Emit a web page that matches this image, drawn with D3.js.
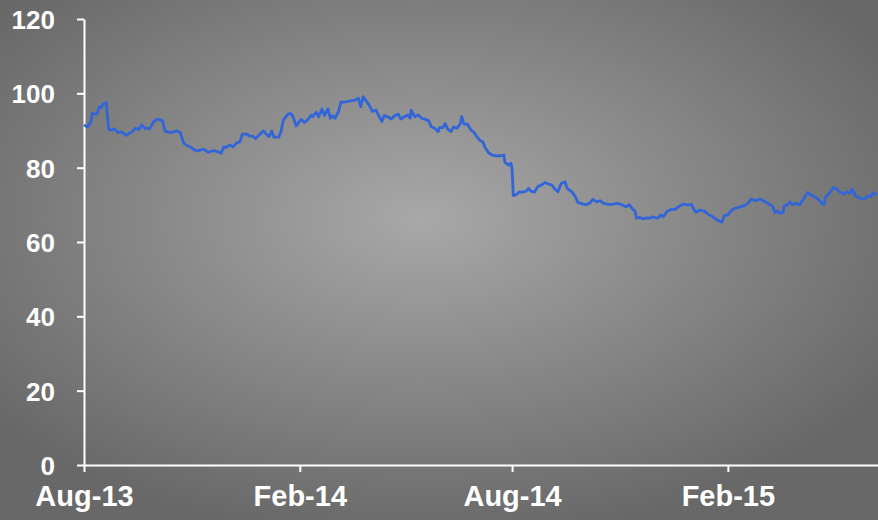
<!DOCTYPE html>
<html>
<head>
<meta charset="utf-8">
<script src="https://cdn.jsdelivr.net/npm/d3@7"></script>
<style>
    body { margin: 0; background: #7a7a7a; }
    svg { display: block; }
    .axis text { font-family: "Liberation Sans", Arial, sans-serif; font-weight: bold; fill: #fff; }
</style>
</head>
<body>
<script>
// Data
let dates = [
    '2013-08-01','2013-08-04','2013-08-07','2013-08-08','2013-08-12','2013-08-14','2013-08-16','2013-08-17','2013-08-20','2013-08-22',
    '2013-08-25','2013-08-27','2013-08-30','2013-09-02','2013-09-06','2013-09-11','2013-09-14','2013-09-17','2013-09-19','2013-09-22',
    '2013-09-26','2013-09-29','2013-10-02','2013-10-04','2013-10-07','2013-10-09','2013-10-12','2013-10-16','2013-10-19','2013-10-22',
    '2013-10-25','2013-10-27','2013-10-31','2013-11-03','2013-11-06','2013-11-11','2013-11-15','2013-11-19','2013-11-23','2013-11-26',
    '2013-11-28','2013-11-30','2013-12-03','2013-12-06','2013-12-09','2013-12-12','2013-12-14','2013-12-18','2013-12-20','2013-12-23',
    '2013-12-25','2013-12-29','2014-01-01','2014-01-04','2014-01-06','2014-01-08','2014-01-10','2014-01-14','2014-01-16','2014-01-18',
    '2014-01-22','2014-01-24','2014-01-26','2014-01-29','2014-01-31','2014-02-02','2014-02-05','2014-02-08','2014-02-11','2014-02-12',
    '2014-02-15','2014-02-17','2014-02-20','2014-02-22','2014-02-25','2014-02-27','2014-03-01','2014-03-03','2014-03-06','2014-03-08',
    '2014-03-12','2014-03-16','2014-03-20','2014-03-23','2014-03-25','2014-03-27','2014-03-29','2014-04-01','2014-04-04','2014-04-07',
    '2014-04-09','2014-04-12','2014-04-14','2014-04-17','2014-04-20','2014-04-23','2014-04-26','2014-04-28','2014-05-01','2014-05-04',
    '2014-05-06','2014-05-07','2014-05-10','2014-05-13','2014-05-16','2014-05-19','2014-05-22','2014-05-24','2014-05-27','2014-05-30',
    '2014-05-31','2014-06-03','2014-06-05','2014-06-07','2014-06-10','2014-06-12','2014-06-15','2014-06-18','2014-06-19','2014-06-21',
    '2014-06-24','2014-06-27','2014-06-29','2014-07-02','2014-07-05','2014-07-07','2014-07-09','2014-07-12','2014-07-15','2014-07-19',
    '2014-07-22','2014-07-25','2014-07-26','2014-07-29','2014-07-31','2014-08-01','2014-08-02','2014-08-05','2014-08-07','2014-08-10',
    '2014-08-13','2014-08-15','2014-08-17','2014-08-20','2014-08-23','2014-08-26','2014-08-29','2014-09-01','2014-09-04','2014-09-06',
    '2014-09-09','2014-09-12','2014-09-15','2014-09-17','2014-09-21','2014-09-24','2014-09-26','2014-09-29','2014-10-02','2014-10-06',
    '2014-10-09','2014-10-12','2014-10-15','2014-10-18','2014-10-22','2014-10-26','2014-10-30','2014-11-02','2014-11-06','2014-11-09',
    '2014-11-12','2014-11-14','2014-11-15','2014-11-18','2014-11-21','2014-11-24','2014-11-27','2014-11-29','2014-12-03','2014-12-06',
    '2014-12-08','2014-12-11','2014-12-15','2014-12-18','2014-12-21','2014-12-25','2014-12-29','2015-01-01','2015-01-03','2015-01-05',
    '2015-01-08','2015-01-12','2015-01-15','2015-01-18','2015-01-20','2015-01-23','2015-01-27','2015-01-29','2015-02-01','2015-02-05',
    '2015-02-08','2015-02-12','2015-02-15','2015-02-18','2015-02-21','2015-02-23','2015-02-25','2015-02-28','2015-03-03','2015-03-06',
    '2015-03-09','2015-03-11','2015-03-13','2015-03-15','2015-03-17','2015-03-20','2015-03-21','2015-03-24','2015-03-26','2015-03-28',
    '2015-03-31','2015-04-03','2015-04-06','2015-04-10','2015-04-13','2015-04-16','2015-04-19','2015-04-22','2015-04-24','2015-04-25',
    '2015-04-28','2015-05-02','2015-05-05','2015-05-08','2015-05-11','2015-05-13','2015-05-16','2015-05-18','2015-05-21','2015-05-24',
    '2015-05-28','2015-05-31','2015-06-03','2015-06-05','2015-06-08'
];
let values = [
    91.5, 90.9, 92.4, 94.6, 94.4, 96.4, 96.2, 97.1, 97.5, 90.3,
    90.1, 90.5, 89.4, 89.6, 88.7, 89.7, 90.6, 90.3, 91.5, 90.6,
    90.5, 92.2, 93.0, 93.0, 92.6, 89.9, 89.5, 89.6, 89.9, 89.5,
    86.6, 86.1, 85.5, 84.8, 84.5, 85.0, 84.1, 84.6, 84.3, 83.9,
    85.6, 85.4, 86.1, 85.6, 86.6, 87.0, 89.0, 89.0, 88.5, 88.5,
    87.8, 89.0, 89.9, 88.8, 88.4, 89.9, 88.2, 88.2, 89.7, 92.8,
    94.4, 94.6, 93.9, 91.2, 92.1, 93.0, 92.2, 93.0, 94.2, 93.7,
    94.9, 93.7, 95.8, 94.0, 95.8, 93.3, 94.0, 93.3, 95.1, 97.6,
    97.7, 98.0, 98.2, 98.7, 96.4, 99.1, 98.2, 96.9, 95.1, 95.5,
    94.2, 92.4, 94.0, 93.7, 93.1, 94.0, 94.4, 93.1, 93.7, 94.2,
    93.3, 95.5, 93.7, 94.2, 93.3, 93.0, 92.6, 91.0, 90.6, 89.7,
    90.8, 90.8, 91.9, 90.4, 89.7, 91.0, 90.6, 91.9, 93.7, 91.7,
    91.7, 90.1, 89.7, 88.3, 87.2, 87.0, 85.4, 84.0, 83.4, 83.2,
    83.2, 83.4, 81.4, 80.7, 81.2, 79.8, 72.5, 72.8, 73.5, 73.4,
    73.7, 74.4, 73.7, 73.4, 74.9, 75.3, 76.0, 75.6, 75.3, 74.4,
    73.5, 75.8, 76.2, 74.4, 73.5, 72.2, 70.6, 70.4, 70.0, 70.4,
    71.5, 70.8, 71.1, 70.4, 70.1, 70.2, 70.4, 70.1, 69.5, 70.0,
    68.8, 68.2, 66.4, 66.6, 66.2, 66.5, 66.4, 66.8, 66.4, 67.3,
    66.8, 68.2, 68.8, 68.8, 69.5, 70.2, 70.0, 70.1, 68.8, 68.0,
    68.6, 68.3, 67.5, 67.0, 66.6, 65.9, 65.3, 67.1, 67.3, 68.8,
    69.1, 69.5, 69.8, 70.4, 71.6, 71.3, 71.1, 71.6, 71.1, 70.6,
    70.0, 69.7, 67.9, 68.4, 67.7, 67.9, 69.7, 70.0, 70.8, 70.1,
    70.4, 70.0, 71.3, 73.3, 72.6, 72.2, 71.5, 70.4, 70.1, 72.0,
    72.9, 74.7, 74.2, 73.3, 72.9, 73.5, 73.1, 74.2, 72.4, 71.9,
    71.5, 72.4, 72.2, 73.3, 72.6
];
let xTicks = ['2013-08-01', '2014-02-01', '2014-08-01', '2015-02-01'];
let yTicks = [0, 20, 40, 60, 80, 100, 120];
let xDomain = ['2013-08-01', '2015-06-09'];

let parse = d3.timeParse('%Y-%m-%d');
let data = dates.map((d, i) => ({date: parse(d), value: values[i]}));

// Setup SVG
let width = 878, height = 520;
let plot = {left: 84, right: 878, top: 19, bottom: 465};

let svg = d3.select('body').append('svg')
    .attr('width', width)
    .attr('height', height);

// radial grey background, lighter in the middle
let grad = svg.append('defs').append('radialGradient')
    .attr('id', 'bg')
    .attr('cx', 0.48).attr('cy', 0.42).attr('r', 0.62);
grad.append('stop').attr('offset', 0).attr('stop-color', '#a8a8a8');
grad.append('stop').attr('offset', 1).attr('stop-color', '#686868');

svg.append('rect')
    .attr('width', width)
    .attr('height', height)
    .attr('fill', 'url(#bg)');

let x = d3.scaleTime()
    .domain(xDomain.map(parse))
    .range([plot.left, plot.right]);

let y = d3.scaleLinear()
    .domain([0, 120])
    .range([plot.bottom, plot.top]);

// Y axis
let yAxis = svg.append('g')
    .attr('class', 'axis')
    .attr('transform', `translate(${plot.left},0)`)
    .call(d3.axisLeft(y).tickValues(yTicks).tickSize(7).tickPadding(22).tickSizeOuter(0));
yAxis.selectAll('text').style('font-size', '26px').attr('dy', '0.36em');

// X axis
let xAxis = svg.append('g')
    .attr('class', 'axis')
    .attr('transform', `translate(0,${plot.bottom})`)
    .call(d3.axisBottom(x).tickValues(xTicks.map(parse)).tickFormat(d3.timeFormat('%b-%y'))
        .tickSize(7).tickPadding(13).tickSizeOuter(0));
xAxis.selectAll('text').style('font-size', '29px');

svg.selectAll('.axis path, .axis line')
    .attr('stroke', '#fff')
    .attr('stroke-width', 2);

// Series line
let line = d3.line()
    .x(d => x(d.date))
    .y(d => y(d.value));

svg.append('path')
    .datum(data)
    .attr('fill', 'none')
    .attr('stroke', '#3266d8')
    .attr('stroke-width', 2.8)
    .attr('stroke-linejoin', 'round')
    .attr('d', line);
</script>
</body>
</html>
